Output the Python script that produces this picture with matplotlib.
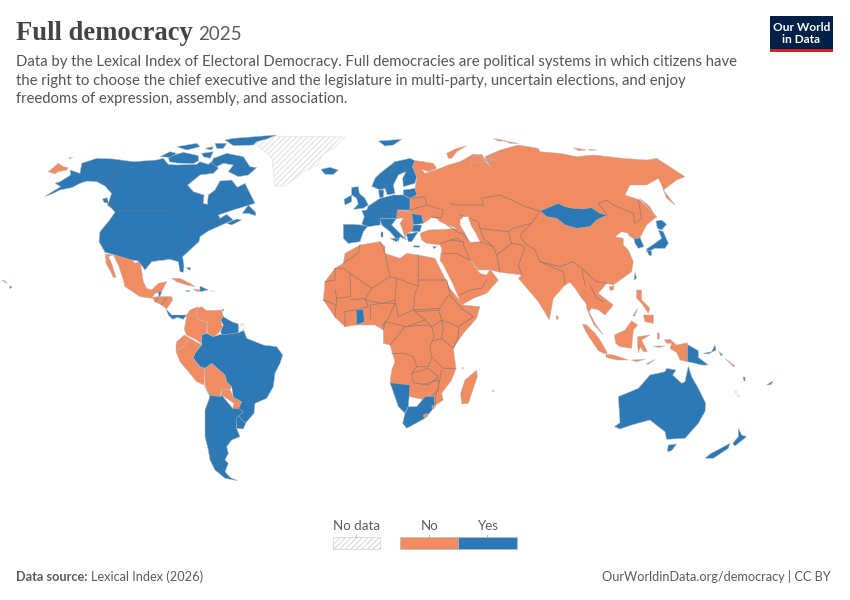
import matplotlib
matplotlib.use("Agg")
import matplotlib.pyplot as plt
from matplotlib.patches import Rectangle, Polygon

plt.rcParams['font.family'] = ['Lato', 'DejaVu Sans']
plt.rcParams['hatch.linewidth'] = 0.9

NA = (0, 125)
SA = (90, 240)
EU = (300, 130)
AF = (310, 230)
AS = (450, 135)
OC = (570, 280)


def crop(origin, pts):
    return [(origin[0] + x / 3, origin[1] + y / 3) for x, y in pts]


TITLE = "Full democracy"
YEAR = "2025"
SUBTITLE = ["Data by the Lexical Index of Electoral Democracy. Full democracies are political systems in which citizens have",
            "the right to choose the chief executive and the legislature in multi-party, uncertain elections, and enjoy",
            "freedoms of expression, assembly, and association."]
SOURCE = "Lexical Index (2026)"
URL = "OurWorldinData.org/democracy | CC BY"
LEGEND = ["No data", "No", "Yes"]

BLUE = "#2c79b5"
ORANGE = "#f08b62"
GREY_TEXT = "#5b5b5b"

# --- blue countries ---
north_america = crop(NA, [(133,215),(160,205),(180,195),(215,188),(240,175),(262,168),(290,170),(315,183),(325,195),(335,205),(328,225),(322,240),(335,250),(345,262),(325,290),(300,320),(297,350),(315,382),(345,390),(395,405),(415,408),(435,435),(455,410),(510,403),(535,410),(540,440),(550,442),(552,425),(548,395),(570,375),(597,350),(600,335),(625,318),(665,300),(700,285),(680,268),(660,280),(655,270),(700,255),(765,235),(750,205),(735,175),(712,187),(695,165),(660,168),(645,195),(625,210),(622,238),(610,235),(612,210),(580,200),(563,180),(600,150),(640,145),(655,130),(640,105),(625,118),(600,110),(590,118),(530,120),(505,118),(490,100),(470,105),(400,110),(340,102),(290,100),(245,115),(240,145),(210,135),(212,150),(180,170),(165,175),(182,185)])
newfoundland = crop(NA, [(727,265),(745,240),(767,262),(767,272),(745,265)])
nova_scotia = crop(NA, [(680,295),(710,282),(725,285),(695,300)])
vancouver = crop(NA, [(308,222),(322,218),(325,235),(312,232)])
baffin = crop(NA, [(640,100),(680,85),(730,95),(750,125),(770,128),(745,150),(715,155),(685,140),(700,120),(670,115),(650,125),(635,115)])
ellesmere = crop(NA, [(675,45),(700,40),(830,30),(800,42),(770,50),(760,60),(700,62)])
victoria = crop(NA, [(505,95),(550,82),(595,92),(595,108),(580,116),(530,114),(508,110)])
banks = crop(NA, [(480,95),(510,80),(530,85),(510,97)])
arctic_a = crop(NA, [(530,65),(590,55),(600,65),(560,75)])
arctic_b = crop(NA, [(605,85),(640,80),(630,100),(610,95)])
arctic_c = crop(NA, [(615,70),(640,65),(635,75)])
arctic_d = crop(NA, [(645,55),(680,55),(670,70),(650,70)])
hawaii = crop(NA, [(28,483),(36,486),(30,491)])
hawaii_b = crop(NA, [(6,465),(14,468),(22,475),(14,471)])
bahamas = crop(NA, [(558,428),(572,428),(570,436)])
belize = crop(SA, [(205,155),(215,155),(208,175)])
panama_cr = crop(SA, [(228,207),(245,225),(265,225),(290,225),(280,238),(262,232),(248,238),(235,225)])
dominican = crop(SA, [(330,138),(355,150),(330,155)])
jamaica = crop(SA, [(285,152),(300,152),(295,156)])
trinidad = crop(SA, [(396,208),(402,208),(400,214)])
brazil = crop(SA, [(370,290),(395,282),(420,280),(445,278),(462,272),(470,295),(520,315),(560,320),(578,345),(570,370),(555,400),(550,440),(530,475),(495,490),(492,520),(470,545),(465,552),(440,530),(430,505),(445,507),(455,485),(430,472),(425,440),(410,425),(405,405),(365,370),(345,385),(330,380),(310,355),(315,340),(335,315),(335,285),(350,280)])
guianas = crop(SA, [(400,230),(425,245),(445,252),(445,278),(420,282),(395,285),(392,275),(400,255),(392,240)])
uruguay = crop(SA, [(435,530),(445,528),(467,550),(460,567),(440,565)])
southern_cone = crop(SA, [(342,435),(360,470),(345,510),(345,590),(355,630),(360,660),(375,690),(405,715),(442,722),(420,712),(405,695),(415,670),(405,660),(415,640),(410,620),(425,600),(450,590),(445,578),(440,565),(438,535),(460,515),(445,505),(428,505),(395,465),(390,470),(360,465)])
iceland = crop(EU, [(63,118),(90,112),(115,120),(100,133),(75,133)])
svalbard = crop(EU, [(235,33),(305,28),(280,45),(255,48)])
nordic = crop(EU, [(215,170),(225,145),(240,130),(265,110),(285,95),(330,85),(345,92),(337,110),(350,140),(345,160),(310,170),(308,145),(318,125),(295,135),(280,165),(285,190),(262,195),(255,175),(240,180),(218,170)])
denmark = crop(EU, [(236,180),(252,180),(250,202),(238,202)])
britain = crop(EU, [(155,172),(175,170),(178,190),(195,205),(205,225),(190,235),(160,238),(175,222),(170,205),(155,195)])
ireland = crop(EU, [(132,208),(155,195),(155,215),(135,225)])
iberia = crop(EU, [(130,283),(160,283),(205,287),(190,305),(180,335),(145,340),(130,325)])
west_europe = crop(EU, [(185,242),(200,240),(205,228),(225,215),(240,205),(280,195),(310,195),(330,205),(330,240),(295,240),(300,265),(245,265),(240,285),(205,290),(185,283),(193,260)])
baltics = crop(EU, [(310,180),(345,175),(350,195),(330,205),(310,195)])
italy = crop(EU, [(240,265),(290,265),(275,285),(320,330),(300,320),(295,335),(270,305),(245,285)])
sardinia = crop(EU, [(243,305),(250,305),(250,320),(243,320)])
sicily = crop(EU, [(270,325),(295,325),(290,336)])
romania = crop(EU, [(330,250),(365,255),(370,280),(340,285)])
bulgaria = crop(EU, [(335,285),(365,285),(360,305),(335,305)])
greece = crop(EU, [(318,310),(335,310),(355,305),(335,335),(325,335)])
crete = crop(EU, [(340,347),(360,348),(358,352),(342,351)])
cyprus = crop(EU, [(398,350),(412,349),(402,356)])
ghana = crop(AF, [(138,240),(160,238),(163,275),(140,285)])
namibia = crop(AF, [(240,458),(300,465),(295,530),(285,550),(265,530)])
south_africa = crop(AF, [(295,530),(320,530),(345,500),(372,498),(375,530),(345,565),(290,595),(278,580),(285,550)])
mauritius = crop(AF, [(547,481),(552,481),(550,486)])
mongolia = crop(AS, [(270,228),(325,205),(345,215),(370,220),(400,222),(425,218),(450,235),(472,240),(440,255),(420,275),(380,280),(345,270),(320,250),(290,245)])
south_korea = crop(AS, [(552,312),(570,308),(582,335),(565,340),(555,325)])
hokkaido = crop(AS, [(618,258),(635,255),(650,268),(635,285),(622,280)])
honshu = crop(AS, [(625,285),(640,290),(655,325),(645,340),(615,340),(590,352),(590,342),(615,325),(635,310)])
kyushu = crop(AS, [(590,345),(605,348),(605,362),(597,360)])
taiwan = crop(AS, [(555,412),(560,430),(552,435)])
png = crop(OC, [(352,193),(385,212),(385,232),(415,255),(395,255),(375,250),(352,245)])
new_britain = crop(OC, [(400,220),(425,215),(435,195),(438,210),(415,222)])
solomon_a = crop(OC, [(447,215),(458,225),(452,227)])
vanuatu = crop(OC, [(520,290),(525,290),(525,303),(521,303)])
fiji = crop(OC, [(590,315),(610,302),(603,314)])
australia = crop(OC, [(133,440),(150,428),(145,350),(205,325),(240,285),(285,275),(290,265),(318,270),(308,285),(335,310),(345,305),(355,258),(365,290),(385,325),(407,370),(405,395),(385,430),(345,475),(290,478),(285,455),(265,440),(240,420),(185,435),(150,447)])
tasmania = crop(OC, [(295,495),(320,492),(305,512),(292,515)])
nz_north = crop(OC, [(505,445),(515,465),(530,470),(495,498),(488,490),(505,470)])
nz_south = crop(OC, [(480,490),(475,505),(430,535),(405,535),(420,522)])

# --- orange countries ---
chukotka = crop(NA, [(145,140),(175,115),(190,125),(205,128),(200,135),(175,140),(165,147)])
wrangel = crop(NA, [(205,98),(218,97),(210,101)])
baja = crop(SA, [(47,42),(70,45),(55,50),(65,70),(78,112),(70,112),(62,95),(48,70)])
mexico = crop(SA, [(70,45),(115,48),(135,70),(150,62),(160,125),(170,145),(185,150),(205,130),(230,125),(215,155),(195,160),(185,175),(150,170),(105,140),(100,120),(85,75)])
central_america = crop(SA, [(185,172),(205,170),(245,170),(248,180),(230,207),(215,195),(195,185)])
cuba = crop(SA, [(245,115),(270,115),(300,130),(315,140),(290,135),(260,125)])
haiti = crop(SA, [(310,148),(330,148),(328,155),(315,152)])
colombia = crop(SA, [(290,225),(300,210),(325,200),(318,215),(322,238),(352,245),(350,280),(335,285),(335,312),(320,300),(290,285),(283,268)])
venezuela = crop(SA, [(322,205),(335,200),(350,212),(395,210),(400,230),(392,240),(397,262),(385,280),(370,290),(352,280),(352,245),(322,238),(318,215)])
ecuador = crop(SA, [(260,305),(283,285),(300,295),(280,320),(258,335),(258,315)])
peru = crop(SA, [(258,335),(280,320),(300,295),(335,315),(315,340),(310,355),(330,380),(345,385),(342,435),(320,425),(270,365)])
bolivia = crop(SA, [(345,385),(365,370),(405,405),(410,425),(425,440),(420,448),(395,448),(390,470),(360,465),(345,435)])
paraguay = crop(SA, [(395,448),(420,448),(430,472),(455,485),(445,507),(428,505),(432,490),(395,465)])
africa = crop(AF, [(105,70),(150,45),(210,35),(225,50),(225,70),(270,85),(290,70),(325,75),(375,85),(395,125),(420,175),(460,225),(510,230),(500,265),(460,310),(430,355),(438,415),(425,450),(395,490),(400,510),(370,530),(345,510),(300,500),(240,458),(245,420),(255,395),(240,345),(220,340),(220,300),(195,285),(170,285),(140,285),(105,290),(75,262),(40,210),(45,155),(75,115),(100,100)])
madagascar = crop(AF, [(500,420),(502,440),(475,520),(455,522),(452,490),(465,450)])
comoros = crop(AF, [(455,413),(460,413),(458,418)])
lesotho = crop(AF, [(340,555),(352,550),(352,560),(342,563)])
eswatini = crop(AF, [(366,527),(374,527),(372,536),(366,535)])
eurasia = (crop(EU, [(420,345),(380,340),(365,330),(360,310),(385,300),(435,298),(470,295),(435,282),(420,275),(410,265),(395,262),(385,270),(370,280),(368,262),(335,250),(325,245),(300,240),(330,240),(330,205),(350,195),(345,175),(348,160),(350,140),(337,110),(345,92),(370,95),(400,100),(410,115),(385,125),(365,118),(375,130),(420,115),(445,105),(480,95),(520,72),(545,80),(560,100),(555,85),(600,90)])
          + crop(AS, [(60,85),(72,60),(95,58),(122,100),(105,65),(150,45),(205,30),(265,40),(270,50),(330,55),(380,65),(430,60),(520,70),(590,75),(620,70),(705,125),(680,135),(640,165),(675,210),(650,190),(635,150),(625,130),(590,150),(540,150),(525,180),(570,195),(620,245),(590,270),(570,308),(552,312),(535,300),(535,295),(515,290),(495,305),(520,310),(520,330),(535,345),(550,380),(545,410),(490,450),(470,445)])
          + crop(OC, [(85,40),(130,75),(105,105),(85,90),(65,85),(57,95),(75,130),(100,165),(72,135),(58,105),(50,85),(48,70)])
          + crop(AS, [(395,490),(375,460),(360,442),(345,450),(310,490),(298,555),(265,500),(205,430),(215,420),(150,412),(120,405),(85,405),(60,375)])
          + crop(AF, [(480,90),(510,130),(530,135),(540,118),(565,150),(530,190),(490,205),(455,225),(430,165),(400,105),(390,90),(395,55)]))
balkans = crop(EU, [(292,240),(325,245),(335,250),(340,285),(335,305),(318,310),(315,325),(308,300),(300,280),(310,265),(290,262)])
novaya_zemlya = crop(EU, [(440,70),(470,55),(500,48),(470,65),(455,85),(445,85)])
arctic_ru_a = crop(AS, [(130,10),(170,18),(145,18)])
arctic_ru_b = crop(AS, [(165,18),(205,25),(180,25)])
arctic_ru_c = crop(AS, [(370,38),(410,45),(385,47)])
arctic_ru_d = crop(AS, [(415,42),(440,45),(420,46)])
sakhalin = crop(AS, [(570,190),(600,215),(620,250),(600,225)])
hainan = crop(AS, [(478,455),(492,452),(490,465),(480,466)])
sri_lanka = crop(AS, [(318,540),(326,548),(320,556)])
sumatra = crop(OC, [(37,132),(50,135),(75,160),(90,180),(112,218),(105,222),(85,212),(60,175),(45,150)])
java = crop(OC, [(108,222),(130,225),(175,240),(140,240),(108,232)])
borneo = crop(OC, [(133,165),(165,150),(185,122),(203,135),(190,150),(185,205),(150,200),(137,190)])
sulawesi = crop(OC, [(203,170),(240,165),(215,180),(232,215),(220,215),(212,200),(205,218),(203,195)])
luzon = crop(OC, [(200,30),(215,30),(215,60),(240,85),(235,100),(215,70),(200,55)])
mindanao = crop(OC, [(220,105),(250,105),(250,130),(225,125)])
palawan = crop(OC, [(188,108),(203,85),(195,108)])
west_papua = crop(OC, [(283,180),(300,178),(320,195),(352,188),(352,245),(330,240),(320,218),(300,205),(305,190),(290,190)])
timor = crop(OC, [(228,252),(255,238),(235,253)])
flores = crop(OC, [(183,240),(225,238),(200,245)])
halmahera = crop(OC, [(262,158),(268,160),(268,178),(262,176)])
seram = crop(OC, [(250,198),(285,198),(265,203)])
solomon_b = crop(OC, [(465,235),(495,258),(490,260)])

# --- no data ---
greenland = [(255, 143), (267, 136), (345, 137), (335, 147), (322, 155), (318, 165), (303, 172), (285, 186), (275, 186), (272, 158)]
french_guiana = crop(SA, [(445,252),(462,250),(462,272),(445,278)])
puerto_rico = crop(SA, [(360,150),(372,150),(372,154),(360,154)])
new_caledonia = crop(OC, [(492,332),(498,332),(510,350),(504,350)])

# inland sea
caspian = crop(AS, [(30,255),(40,245),(55,245),(60,262),(65,275),(75,290),(90,320),(60,322),(45,295),(30,270)])

YES = [north_america, newfoundland, nova_scotia, vancouver, baffin, ellesmere, victoria, banks, arctic_a, arctic_b, arctic_c, arctic_d,
       hawaii, hawaii_b, bahamas, belize, panama_cr, dominican, jamaica, trinidad, brazil, guianas, uruguay, southern_cone, iceland, svalbard,
       nordic, denmark, britain, ireland, iberia, west_europe, baltics, italy, sardinia, sicily, romania, bulgaria, greece,
       crete, cyprus, ghana, namibia, south_africa, mauritius, mongolia, south_korea, hokkaido, honshu, kyushu, taiwan, png, new_britain,
       solomon_a, vanuatu, fiji, australia, tasmania, nz_north, nz_south]
NO = [chukotka, wrangel, baja, mexico, central_america, cuba, haiti, colombia, venezuela, ecuador, peru, bolivia, paraguay,
      africa, madagascar, comoros, eurasia, novaya_zemlya, arctic_ru_a, arctic_ru_b, arctic_ru_c, arctic_ru_d, sakhalin, hainan,
      sri_lanka, sumatra, java, borneo, sulawesi, luzon, mindanao, palawan, west_papua, timor, flores, halmahera, seram, solomon_b]
NO_DATA = [greenland, french_guiana, puerto_rico, new_caledonia]
# small patches that sit on top of a blue country
NO_ON_TOP = [lesotho, eswatini, balkans]

# --- borders between countries ---
borders_blue = [
    crop(NA, [(380,110),(315,170),(335,185),(340,210),(330,245)]),
    crop(NA, [(345,256),(510,256),(560,268),(580,285),(565,312),(620,290),(660,280)]),
    crop(SA, [(360,470),(360,560),(360,610),(385,670),(405,695)]),
    crop(SA, [(420,245),(415,282)]),
    crop(SA, [(438,530),(430,560)]),
    crop(EU, [(285,95),(270,130),(255,175)]),
    crop(EU, [(305,95),(318,125)]),
    crop(EU, [(225,215),(240,265)]),
    crop(EU, [(265,210),(268,262)]),
    crop(EU, [(280,195),(275,225),(295,240)]),
    crop(EU, [(240,250),(292,250)]),
    crop(EU, [(155,290),(145,340)]),
    crop(EU, [(312,190),(348,188)]),
]
borders_orange = [
    crop(AF, [(150,45),(145,70),(100,100)]),
    crop(AF, [(45,155),(75,150),(75,115),(100,115),(120,130),(122,200),(80,205),(75,180)]),
    crop(AF, [(210,35),(225,70),(240,140),(185,175),(120,130)]),
    crop(AF, [(185,175),(165,210),(215,220),(255,210),(260,145),(240,140)]),
    crop(AF, [(260,145),(325,168),(325,75)]),
    crop(AF, [(325,150),(410,150),(420,190),(385,240),(330,245),(310,240),(315,190),(325,168)]),
    crop(AF, [(255,210),(265,260),(310,240),(345,270),(290,290),(225,275)]),
    crop(AF, [(315,240),(385,235),(395,270),(365,290),(345,270)]),
    crop(AF, [(420,195),(455,235),(490,260),(445,290),(395,270)]),
    crop(AF, [(445,290),(445,320),(430,355),(395,325),(400,295),(395,270)]),
    crop(AF, [(365,335),(395,325)]),
    crop(AF, [(240,345),(285,290),(345,285),(365,290),(372,320),(360,350),(365,380),(355,410),(320,410),(310,380),(285,370),(245,370)]),
    crop(AF, [(180,225),(215,220),(255,220),(235,265),(215,290)]),
    crop(AF, [(180,225),(180,265)]),
    crop(AF, [(225,275),(220,300)]),
    crop(AF, [(320,410),(305,430),(310,458)]),
    crop(AF, [(305,430),(355,415),(385,440),(355,465),(310,458)]),
    crop(AF, [(365,380),(400,415),(438,415)]),
    crop(AF, [(395,420),(385,470),(378,490),(375,530)]),
    crop(AF, [(335,465),(385,450),(385,480),(370,495)]),
    crop(AF, [(122,210),(165,205),(175,230),(135,240),(105,245),(105,290)]),
    crop(AF, [(80,205),(75,262)]),
    crop(AF, [(40,210),(80,225)]),
    crop(AF, [(400,70),(440,70),(480,90)]),
    crop(AF, [(450,195),(480,180),(515,175),(530,150)]),
    crop(AS, [(0,205),(20,210),(35,210),(100,210),(95,190),(150,180),(185,195),(225,215),(270,228)]),
    crop(AS, [(472,240),(445,205),(470,195),(490,210),(550,235),(555,265),(575,250),(565,195)]),
    crop(AS, [(30,240),(85,260),(90,280),(130,285),(175,290),(190,280),(245,265),(270,228)]),
    crop(AS, [(245,265),(210,300),(225,325),(255,345),(270,380),(330,395),(370,380),(395,400),(405,450)]),
    crop(AS, [(270,380),(340,410),(345,450)]),
    crop(AS, [(150,410),(140,360),(185,325),(215,330),(225,340),(205,390),(215,420)]),
    crop(AS, [(40,300),(60,320),(90,320),(130,335),(140,360)]),
    crop(AS, [(40,320),(40,330),(60,375)]),
    crop(AS, [(90,280),(100,310),(130,335)]),
    crop(AS, [(175,290),(185,325)]),
    crop(AS, [(0,315),(40,320)]),
    crop(AS, [(395,400),(440,440),(470,445)]),
    crop(AS, [(420,450),(440,490),(460,500)]),
    crop(EU, [(420,340),(470,325),(485,335)]),
    crop(EU, [(440,285),(480,310),(500,310)]),
    crop(EU, [(330,205),(375,200),(380,225),(430,240),(425,262),(395,262)]),
    crop(EU, [(330,240),(380,225)]),
    crop(SA, [(205,172),(195,185)]),
    crop(SA, [(230,172),(215,195)]),
]

fig = plt.figure(figsize=(8.5, 6), dpi=100)
ax = fig.add_axes([0, 0, 1, 1])
ax.set_xlim(0, 850)
ax.set_ylim(600, 0)
ax.axis("off")


def land(pts, color, hatch=None, z=2):
    if hatch:
        ax.add_patch(Polygon(pts, closed=True, facecolor="white", edgecolor="#e3e3e3", hatch=hatch, linewidth=0.5, zorder=z))
    else:
        ax.add_patch(Polygon(pts, closed=True, facecolor=color, edgecolor="#b9b9b9", linewidth=0.35, zorder=z))


for p in NO:
    land(p, ORANGE, z=2)
for p in NO_DATA:
    land(p, None, hatch="//////", z=2)
for p in YES:
    land(p, BLUE, z=3)
for p in NO_ON_TOP:
    land(p, ORANGE, z=4)
for line in borders_orange:
    ax.plot(*zip(*line), color="#9a7c6c", lw=0.55, zorder=2.5, solid_joinstyle="round")
for line in borders_blue:
    ax.plot(*zip(*line), color="#52789a", lw=0.5, zorder=3.5, solid_joinstyle="round")
ax.add_patch(Polygon(caspian, closed=True, facecolor="white", edgecolor="#b9b9b9", linewidth=0.35, zorder=2.6))

# header
ax.text(16, 40, TITLE, family="Liberation Serif", weight="bold", fontsize=19.2, color="#444444", va="baseline")
ax.text(198, 40, YEAR, fontsize=13.5, color="#5b5b5b", va="baseline")
for i, s in enumerate(SUBTITLE):
    ax.text(16, 66 + i * 18.5, s, fontsize=10.72, color="#555555", va="baseline")

# logo
ax.add_patch(Rectangle((770, 16), 63, 33, facecolor="#002147", edgecolor="none"))
ax.add_patch(Rectangle((770, 49), 63, 3, facecolor="#ce261e", edgecolor="none"))
ax.text(801.5, 27.5, "Our World", color="white", weight="bold", fontsize=8.6, ha="center", va="center")
ax.text(801.5, 39.5, "in Data", color="white", weight="bold", fontsize=8.6, ha="center", va="center")

# legend
ax.add_patch(Rectangle((333, 537), 47, 11.5, facecolor="white", edgecolor="#dddddd", hatch="//////", linewidth=0.8))
ax.add_patch(Rectangle((400, 537), 58, 11.5, facecolor=ORANGE, edgecolor="#bbbbbb", linewidth=0.5))
ax.add_patch(Rectangle((458, 537), 59, 11.5, facecolor=BLUE, edgecolor="#bbbbbb", linewidth=0.5))
for label, cx in zip(LEGEND, [356.5, 429.5, 487.5]):
    ax.text(cx, 530, label, fontsize=9.6, color=GREY_TEXT, ha="center", va="baseline")
    ax.plot([cx, cx], [534.5, 537], color="#aaaaaa", lw=0.6)

# footer
ax.text(16, 581, "Data source:", weight="bold", fontsize=9.2, color=GREY_TEXT, va="baseline")
ax.text(91, 581, SOURCE, fontsize=9.2, color=GREY_TEXT, va="baseline")
ax.text(831, 581, URL, fontsize=9.2, color=GREY_TEXT, ha="right", va="baseline")

fig.savefig("out.png", dpi=100)
